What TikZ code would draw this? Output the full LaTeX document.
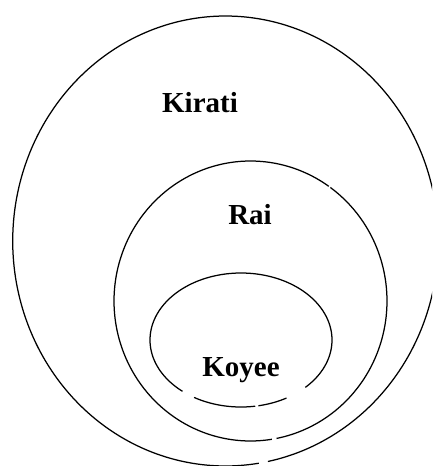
\documentclass[tikz,border=0pt]{standalone}
\usepackage{fontspec}
\setmainfont{Liberation Serif}
\begin{document}
\begin{tikzpicture}[x=1pt,y=-1pt,
  ring/.style={line width=1.25pt,black},
  lbl/.style={font=\fontsize{29}{29}\selectfont\bfseries,anchor=base,inner sep=0pt}]
\useasboundingbox (0,0) rectangle (432,466);
\begin{scope}
\clip (0,0) rectangle (432,466);
% outer ellipse (Kirati)
\draw[ring] plot[domain=81:438.5,samples=200,smooth] ({225.5+212.8*cos(\x)},{241+225*sin(\x)});
% Rai circle
\draw[ring] plot[domain=81:305,samples=150,smooth] ({250.5+136.5*cos(\x)},{301+140*sin(\x)});
\draw[ring] plot[domain=305.8:439,samples=80,smooth] ({250.5+136.5*cos(\x)},{301+140*sin(\x)});
% Koyee ellipse
\draw[ring] plot[domain=130:405,samples=150,smooth] ({241+91*cos(\x)},{340+67*sin(\x)});
\draw[ring] plot[domain=81:121,samples=30,smooth] ({241+91*cos(\x)},{340+67*sin(\x)});
\draw[ring] plot[domain=60:79,samples=20,smooth] ({241+91*cos(\x)},{340+67*sin(\x)});
\end{scope}
\node[lbl] (kirati) at (200,112.3) {Kirati};
\node[lbl] (rai) at (250,224.3) {Rai};
\node[lbl] (koyee) at (241,376.7) {Koyee};
\end{tikzpicture}
\end{document}
